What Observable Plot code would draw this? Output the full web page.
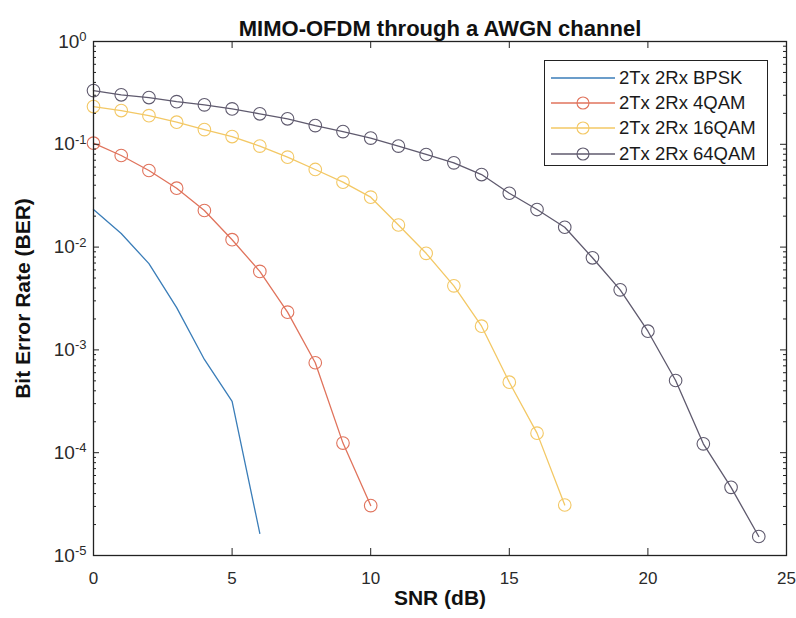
<!DOCTYPE html>
<html><head><meta charset="utf-8">
<script src="https://cdn.jsdelivr.net/npm/d3@7"></script>
<script src="https://cdn.jsdelivr.net/npm/@observablehq/plot@0.6"></script>
<style>
body{margin:0;background:#fff;font-family:"Liberation Sans",Arial,sans-serif}
#wrap{position:relative;width:796px;height:618px}
.legend{position:absolute;left:544px;top:60px;width:224px;height:106px;border:1px solid #222;background:#fff;box-sizing:border-box;padding-top:4px}
.row{display:flex;align-items:center;height:25.3px;font-size:18.5px;color:#1a1a1a}
.row svg{margin-left:5px;margin-right:3px}
</style></head>
<body><div id="wrap"></div>
<script>
const snr = [0,1,2,3,4,5,6,7,8,9,10,11,12,13,14,15,16,17,18,19,20,21,22,23,24];
const berBPSK = [0.0232,0.01356,0.0069,0.00258,0.000807,0.000315,0.0000164];
const ber4QAM = [0.1025,0.0778,0.0556,0.0374,0.0227,0.0118,0.0058,0.00233,0.00075,0.000124,0.0000306];
const ber16QAM = [0.233,0.213,0.19,0.164,0.139,0.119,0.096,0.075,0.0569,0.0428,0.0306,0.0164,0.0087,0.0042,0.0017,0.000485,0.000155,0.000031];
const ber64QAM = [0.333,0.303,0.285,0.26,0.242,0.221,0.198,0.177,0.152,0.133,0.115,0.096,0.0796,0.066,0.0508,0.0334,0.0232,0.0156,0.00787,0.00384,0.00152,0.000504,0.000122,0.000046,0.0000153];
const seriesNames = ["2Tx 2Rx BPSK","2Tx 2Rx 4QAM","2Tx 2Rx 16QAM","2Tx 2Rx 64QAM"];
const seriesColors = ["#3a7db8","#e0735c","#f3c865","#5f5a6e"];
const seriesMarkers = [false,true,true,true];
const xTicks = [0,5,10,15,20,25];
const yDecades = [1e-5,1e-4,1e-3,1e-2,1e-1,1];
const titleText = "MIMO-OFDM through a AWGN channel";
const xLabel = "SNR (dB)";
const yLabel = "Bit Error Rate (BER)";

const allSeries = [berBPSK, ber4QAM, ber16QAM, ber64QAM];
const rows = allSeries.map((vals, k) => vals.map((v, i) => ({snr: snr[i], ber: v, name: seriesNames[k]})));

const W = 796, H = 618, mt = 41, mb = 63, ml = 93, mr = 10;
const pw = W - ml - mr, ph = H - mt - mb;
const logTicks = d3.scaleLog().domain([1e-5, 1]).ticks();
const minor = logTicks.filter(t => !yDecades.some(d => Math.abs(d - t) / d < 1e-6));

const marks = [];
allSeries.forEach((vals, k) => {
  marks.push(Plot.line(rows[k], {x: "snr", y: "ber", stroke: seriesColors[k], strokeWidth: 1.3}));
  if (seriesMarkers[k]) marks.push(Plot.dot(rows[k], {x: "snr", y: "ber", stroke: seriesColors[k], fill: "none", r: 6.3, strokeWidth: 1.1}));
});
const tk = "#222";
marks.push(
  Plot.tickX(xTicks, {x: d => d, insetTop: ph - 7, stroke: tk}),
  Plot.tickX(xTicks, {x: d => d, insetBottom: ph - 7, stroke: tk}),
  Plot.tickY(yDecades, {y: d => d, insetRight: pw - 6, stroke: tk}),
  Plot.tickY(yDecades, {y: d => d, insetLeft: pw - 6, stroke: tk}),
  Plot.tickY(minor, {y: d => d, insetRight: pw - 3, stroke: tk}),
  Plot.tickY(minor, {y: d => d, insetLeft: pw - 3, stroke: tk}),
  Plot.frame({stroke: tk, strokeWidth: 1.3}),
  Plot.axisX(xTicks, {tickSize: 0, tickPadding: 16, fontSize: 17, fill: "#2a2a2a", label: null}),
  Plot.axisY(yDecades, {tickSize: 0, tickPadding: 7, fontSize: 19, fill: "#2a2a2a", label: null,
    tickFormat: d => "10^" + Math.round(Math.log10(d))}),
  Plot.text([titleText], {frameAnchor: "top", dy: -21, text: d => d, textAnchor: "middle", fontSize: 22, fontWeight: "bold", fill: "#111"}),
  Plot.text([xLabel], {frameAnchor: "bottom", dy: 49, text: d => d, textAnchor: "middle", fontSize: 21, fontWeight: "bold", fill: "#111"}),
  Plot.text([yLabel], {frameAnchor: "left", dx: -70, rotate: -90, text: d => d, textAnchor: "middle", fontSize: 21, fontWeight: "bold", fill: "#111"})
);

const chart = Plot.plot({
  width: W, height: H,
  marginTop: mt, marginBottom: mb, marginLeft: ml, marginRight: mr,
  style: {fontFamily: '"Liberation Sans", Arial, sans-serif', background: "#fff"},
  x: {domain: [0, 25], axis: null},
  y: {type: "log", domain: [1e-5, 1], axis: null},
  marks
});

d3.select(chart).selectAll('g[aria-label="y-axis tick label"] text').each(function() {
  const s = this.textContent;
  const parts = s.split("^");
  if (parts.length !== 2) return;
  const t = d3.select(this);
  t.text(null);
  t.append("tspan").text(parts[0]);
  t.append("tspan").attr("dy", "-0.5em").attr("font-size", "13px").text(parts[1]);
});

const wrap = document.getElementById("wrap");
wrap.appendChild(chart);

const legend = document.createElement("div");
legend.className = "legend";
seriesNames.forEach((name, k) => {
  const row = document.createElement("div");
  row.className = "row";
  const ns = "http://www.w3.org/2000/svg";
  const s = document.createElementNS(ns, "svg");
  s.setAttribute("width", "66"); s.setAttribute("height", "20");
  const ln = document.createElementNS(ns, "line");
  ln.setAttribute("x1", "1"); ln.setAttribute("x2", "65"); ln.setAttribute("y1", "10"); ln.setAttribute("y2", "10");
  ln.setAttribute("stroke", seriesColors[k]); ln.setAttribute("stroke-width", "1.3");
  s.appendChild(ln);
  if (seriesMarkers[k]) {
    const c = document.createElementNS(ns, "circle");
    c.setAttribute("cx", "33"); c.setAttribute("cy", "10"); c.setAttribute("r", "6");
    c.setAttribute("fill", "none"); c.setAttribute("stroke", seriesColors[k]); c.setAttribute("stroke-width", "1.1");
    s.appendChild(c);
  }
  row.appendChild(s);
  const sp = document.createElement("span");
  sp.textContent = name;
  row.appendChild(sp);
  legend.appendChild(row);
});
wrap.appendChild(legend);
</script>
</body></html>
